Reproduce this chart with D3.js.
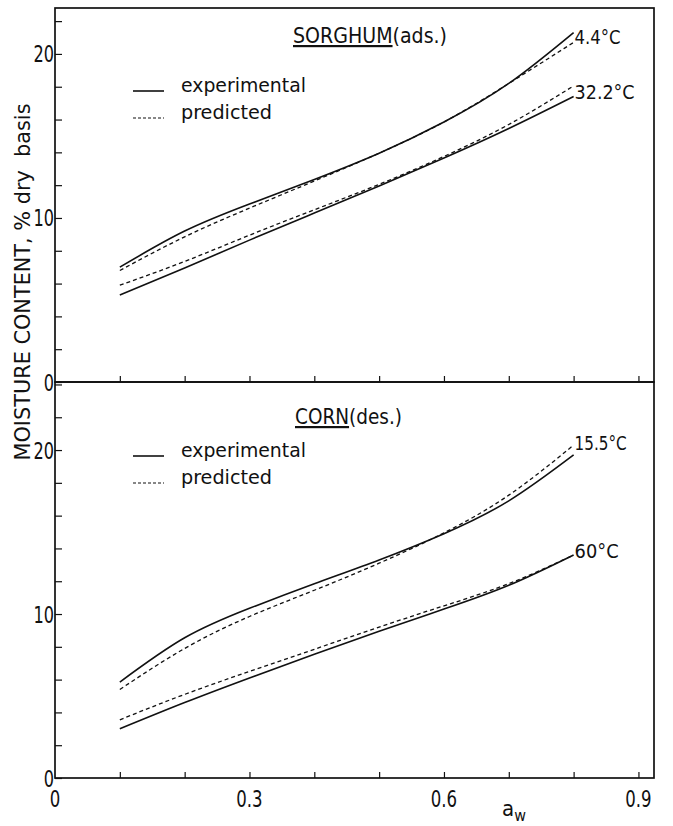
<!DOCTYPE html>
<html>
<head>
<meta charset="utf-8">
<script src="https://cdnjs.cloudflare.com/ajax/libs/d3/7.8.5/d3.min.js"></script>
<style>
  html, body { margin: 0; padding: 0; background: #fff; }
  svg text { font-family: "DejaVu Sans Condensed", "DejaVu Sans", sans-serif; fill: #111; }
</style>
</head>
<body>
<div class="graph"></div>
<script>
// water activity grid shared by every isotherm
var awValues = [0.1, 0.2, 0.3, 0.4, 0.5, 0.6, 0.7, 0.8];

// sorghum, adsorption
var sorghum44Exp  = [7.0, 9.2, 10.85, 12.35, 13.95, 15.85, 18.2, 21.3];
var sorghum44Pred = [6.8, 8.85, 10.6, 12.25, 13.95, 15.85, 18.2, 20.7];
var sorghum322Exp  = [5.3, 6.95, 8.65, 10.3, 11.95, 13.65, 15.45, 17.4];
var sorghum322Pred = [5.9, 7.35, 8.95, 10.5, 12.05, 13.75, 15.7, 18.05];

// corn, desorption
var corn155Exp  = [5.85, 8.55, 10.35, 11.85, 13.3, 14.9, 16.9, 19.7];
var corn155Pred = [5.4, 7.9, 9.85, 11.45, 13.1, 14.95, 17.25, 20.3];
var corn60Exp  = [3.0, 4.6, 6.1, 7.55, 8.95, 10.3, 11.75, 13.6];
var corn60Pred = [3.55, 5.1, 6.5, 7.85, 9.2, 10.5, 11.85, 13.6];

var xTickLabels = [0, 0.3, 0.6, 0.9];
var yTickLabels = [0, 10, 20];
var curveLabels = ["4.4°C", "32.2°C", "15.5°C", "60°C"];

var Isotherms = (function(){
  var svg, x;
  var W = 673, H = 826;
  var left = 55, right = 654;

  function series(vals){
    return vals.map(function(v, i){ return {aw: awValues[i], m: v}; });
  }

  // narrow lettering: squeeze glyphs horizontally around the anchor point
  function narrowText(parent, tx, ty, size, anchor, sx){
    return parent.append("text")
      .attr("transform", "translate(" + tx + "," + ty + ") scale(" + sx + ",1)")
      .attr("text-anchor", anchor)
      .style("font-size", size + "px");
  }

  function drawPanel(p){
    var y = d3.scaleLinear().domain([0, p.yMax]).range([p.bottom, p.top]);
    var g = svg.append("g");

    // frame
    g.append("rect")
      .attr("x", left).attr("y", p.top)
      .attr("width", right - left).attr("height", p.bottom - p.top)
      .style("fill", "none").style("stroke", "#111").style("stroke-width", 1.7);

    // y ticks every 2 units, pointing inward
    var yAxis = d3.axisRight(y)
      .tickValues(d3.range(0, p.yMax, 2))
      .tickSize(7).tickFormat("");
    g.append("g").attr("transform", "translate(" + left + ",0)").call(yAxis)
      .call(function(s){ s.select(".domain").remove(); })
      .selectAll("line").style("stroke", "#111").style("stroke-width", 1.2);

    yTickLabels.forEach(function(d){
      narrowText(g, left - 1, y(d) + 8.5, 23, "end", 0.78).text(d);
    });

    // x ticks along the bottom edge, pointing up
    var xAxis = d3.axisTop(x)
      .tickValues(d3.range(1, 10).map(function(i){ return i / 10; }))
      .tickSize(6).tickFormat("");
    g.append("g").attr("transform", "translate(0," + p.bottom + ")").call(xAxis)
      .call(function(s){ s.select(".domain").remove(); })
      .selectAll("line").style("stroke", "#111").style("stroke-width", 1.2);

    var line = d3.line()
      .x(function(d){ return x(d.aw); })
      .y(function(d){ return y(d.m); })
      .curve(d3.curveNatural);

    p.curves.forEach(function(c){
      g.append("path")
        .datum(series(c.exp))
        .attr("d", line)
        .style("fill", "none").style("stroke", "#111").style("stroke-width", 1.6);
      g.append("path")
        .datum(series(c.pred))
        .attr("d", line)
        .style("fill", "none").style("stroke", "#111").style("stroke-width", 1.3)
        .style("stroke-dasharray", "4,3");
      var yEnd = (y(c.exp[7]) + y(c.pred[7])) / 2;
      g.append("text")
        .attr("x", x(0.8) + 1).attr("y", yEnd + c.dy)
        .attr("textLength", c.w).attr("lengthAdjust", "spacingAndGlyphs")
        .style("font-size", "19px")
        .text(c.label);
    });

    // panel title, product name underlined
    var t = g.append("text").attr("x", p.titleX).attr("y", p.titleY)
      .attr("textLength", p.titleW).attr("lengthAdjust", "spacingAndGlyphs")
      .style("font-size", "22px");
    t.append("tspan").style("text-decoration", "underline").text(p.name);
    t.append("tspan").text(p.mode);

    // legend
    g.append("line")
      .attr("x1", 133).attr("x2", 164).attr("y1", p.legendY).attr("y2", p.legendY)
      .style("stroke", "#111").style("stroke-width", 1.6);
    g.append("line")
      .attr("x1", 133).attr("x2", 164).attr("y1", p.legendY + 27).attr("y2", p.legendY + 27)
      .style("stroke", "#111").style("stroke-width", 1.2).style("stroke-dasharray", "3,2");
    g.append("text").attr("x", 181).attr("y", p.legendY + 1)
      .attr("textLength", 125).attr("lengthAdjust", "spacingAndGlyphs")
      .style("font-size", "20px").text("experimental");
    g.append("text").attr("x", 181).attr("y", p.legendY + 28)
      .attr("textLength", 91).attr("lengthAdjust", "spacingAndGlyphs")
      .style("font-size", "20px").text("predicted");
  }

  function initHTML(){
    svg = d3.select(".graph").append("svg")
      .attr("width", W).attr("height", H);
    x = d3.scaleLinear().domain([0, 0.924]).range([left, right]);
  }

  return {
    init: function(){
      initHTML();

      drawPanel({
        top: 8, bottom: 382, yMax: 22.8,
        name: "SORGHUM", mode: "(ads.)", titleX: 293, titleY: 43, titleW: 154, legendY: 91,
        curves: [
          {exp: sorghum44Exp, pred: sorghum44Pred, label: curveLabels[0], dy: 6, w: 46},
          {exp: sorghum322Exp, pred: sorghum322Pred, label: curveLabels[1], dy: 7.5, w: 60}
        ]
      });
      drawPanel({
        top: 382, bottom: 778, yMax: 24.15,
        name: "CORN", mode: "(des.)", titleX: 295, titleY: 424, titleW: 107, legendY: 456,
        curves: [
          {exp: corn155Exp, pred: corn155Pred, label: curveLabels[2], dy: 0, w: 52},
          {exp: corn60Exp, pred: corn60Pred, label: curveLabels[3], dy: 3, w: 44}
        ]
      });

      // x tick labels under the lower panel
      xTickLabels.forEach(function(d){
        narrowText(svg, x(d), 807, 23, "middle", 0.8).text(d === 0 ? "0" : String(d));
      });

      // axis titles
      var xt = svg.append("text").attr("x", 502).attr("y", 816).style("font-size", "22px");
      xt.append("tspan").text("a");
      xt.append("tspan").attr("dy", 5).style("font-size", "16px").text("w");

      svg.append("text")
        .attr("transform", "translate(30,282) rotate(-90)")
        .attr("text-anchor", "middle")
        .attr("textLength", 357).attr("lengthAdjust", "spacingAndGlyphs")
        .style("font-size", "21px")
        .text("MOISTURE CONTENT, % dry\u00a0 basis");
    }
  };
})();

Isotherms.init();
</script>
</body>
</html>
